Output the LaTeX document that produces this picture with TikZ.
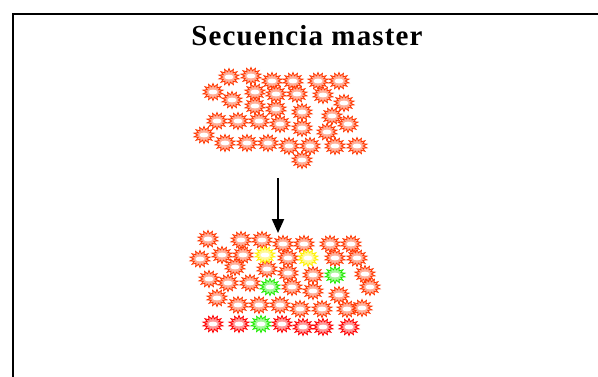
\documentclass[tikz,border=0pt]{standalone}
\usepackage{fontspec}
\setmainfont{Liberation Serif}
\newfontfamily\titlefont[LetterSpace=4]{Liberation Serif}
\usetikzlibrary{shapes.geometric,arrows.meta}
\definecolor{burstorange}{RGB}{255,55,0}
\definecolor{burstred}{RGB}{255,0,0}
\definecolor{burstyellow}{RGB}{255,240,0}
\definecolor{burstgreen}{RGB}{30,235,0}
\tikzset{
  burst/.style={star, star points=14, star point ratio=1.6, minimum size=17pt,
    inner sep=0pt, draw=#1, fill=#1!40, line width=0.8pt, xscale=1.2, transform shape,
    path picture={\fill[white] (path picture bounding box.center) ellipse (3.8pt and 2.4pt);}},
  burst/.default=burstorange,
  frame/.style={draw=black, line width=2pt},
  flow/.style={draw=black, line width=2pt, -{Triangle[length=14pt,width=12pt]}},
}
\begin{document}
\begin{tikzpicture}[x=1pt,y=-1pt]
\useasboundingbox (0,0) rectangle (598,376);
\clip (0,0) rectangle (598,376);
\fill[white] (0,0) rectangle (598,376);
\draw[frame] (12.5,13.5) rectangle (620,400);
\node[font=\titlefont\bfseries\fontsize{29}{34}\selectfont, anchor=base] (title) at (307,45.5) {Secuencia master};

% top cluster
\foreach \x/\y [count=\k] in {229/77,251/76,272/81,293/81,318/81,339/81,
  213/92,255/92,276/94,297/94,323/95,232/100,255/106,276/109,344/103,302/112,
  332/116,217/121,238/121,259/121,280/124,302/128,348/124,327/132,204/135,
  225/143,247/143,268/143,289/146,310/146,335/146,357/146,302/160}
  \node[burst] (a\k) at (\x,\y) {};

% bottom cluster, orange
\foreach \x/\y [count=\k] in {208/239,241/240,262/240,283/244,304/244,330/244,351/244,
  200/259,222/255,243/255,288/258,335/258,357/258,235/267,267/269,288/273,
  313/275,365/274,209/279,228/283,250/283,292/287,313/291,370/287,339/295,
  217/298,238/305,259/305,280/305,300/309,322/309,347/309,362/308}
  \node[burst] (b\k) at (\x,\y) {};

% bottom cluster, yellow and green
\node[burst=burstyellow] (y1) at (265,255) {};
\node[burst=burstyellow] (y2) at (308,258) {};
\node[burst=burstgreen] (g1) at (335,275) {};
\node[burst=burstgreen] (g2) at (270,287) {};
\node[burst=burstgreen] (g3) at (261,324) {};

% bottom row, red
\foreach \x/\y [count=\k] in {213/324,239/324,282/324,303/327,323/327,349/327}
  \node[burst=burstred] (r\k) at (\x,\y) {};

\coordinate (from) at (278,178);
\coordinate (to) at (278,233);
\draw[flow] (from) -- (to);
\end{tikzpicture}
\end{document}
